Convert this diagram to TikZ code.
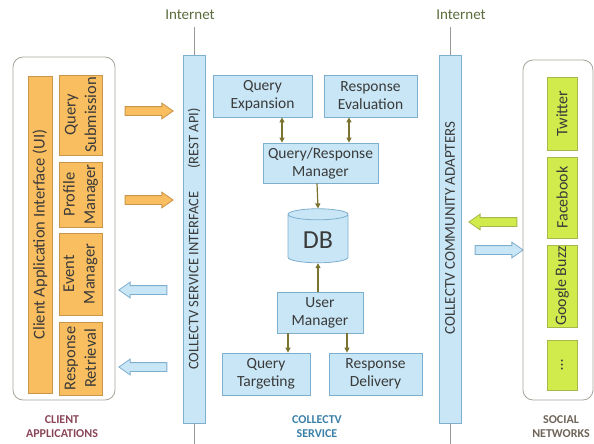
\documentclass[tikz,border=0pt]{standalone}
\usepackage{fontspec}
\setmainfont{Carlito}
\usetikzlibrary{arrows.meta,shapes.geometric,shapes.arrows}
\definecolor{bluefill}{HTML}{C8E6F5}
\definecolor{blueedge}{HTML}{7FAFCF}
\definecolor{orangefill}{HTML}{F9BE5F}
\definecolor{orangeedge}{HTML}{C9954A}
\definecolor{greenfill}{HTML}{D2EB4C}
\definecolor{greenedge}{HTML}{A6B84A}
\definecolor{paneledge}{HTML}{A8A39A}
\definecolor{linkcol}{HTML}{7B7330}
\definecolor{netcol}{HTML}{5A6B3C}
\definecolor{txtcol}{HTML}{3A3A3A}
\definecolor{clientcol}{HTML}{8B4558}
\definecolor{svccol}{HTML}{3A7FA8}
\definecolor{socialcol}{HTML}{6E6459}
\tikzset{
  panel/.style={draw=paneledge, rounded corners=10pt, line width=0.8pt},
  svcbox/.style={draw=blueedge, fill=bluefill, text=txtcol, align=center,
    font=\fontsize{15.5}{18}\selectfont, inner sep=0pt, line width=0.8pt},
  bar/.style={svcbox, rotate=90, font=\fontsize{14.5}{16}\selectfont},
  uibox/.style={draw=orangeedge, fill=orangefill, text=txtcol, align=center,
    rotate=90, font=\fontsize{16.5}{20.5}\selectfont, inner sep=0pt, line width=0.6pt},
  netbox/.style={draw=greenedge, fill=greenfill, text=txtcol, align=center,
    rotate=90, font=\fontsize{16}{18}\selectfont, inner sep=0pt, line width=0.6pt},
  pipe/.style={single arrow, minimum height=48pt, inner xsep=0pt, inner ysep=4pt,
    single arrow head extend=3.5pt, single arrow tip angle=70, line width=0.8pt},
  link/.style={draw=linkcol, line width=1.2pt, -{Triangle[length=5pt,width=5pt]}},
  wire/.style={draw=gray!80, line width=0.6pt},
  caption/.style={align=center, font=\fontsize{12}{14}\selectfont\bfseries}
}
\begin{document}
\begin{tikzpicture}[x=1pt, y=-1pt]
		%%%%% START %%%%%
		\useasboundingbox (0,0) rectangle (594,444);
		
		% client side
		\node[panel, minimum width=102pt, minimum height=343pt] (clients) at (64,228.5) {};
		\node[uibox, minimum width=317pt, minimum height=24pt] (ui) at (40,234.5) {Client Application Interface (UI)};
		\node[uibox, minimum width=80pt, minimum height=43pt] (qsub) at (80.5,115) {Query\\Submission};
		\node[uibox, minimum width=65pt, minimum height=43pt] (pman) at (80.5,194.5) {Profile\\Manager};
		\node[uibox, minimum width=82pt, minimum height=43pt] (eman) at (80.5,274) {Event\\Manager};
		\node[uibox, minimum width=73pt, minimum height=43pt] (rret) at (80.5,358.5) {Response\\Retrieval};
		\node[caption, text=clientcol] (clientcap) at (62,427) {CLIENT\\APPLICATIONS};
		
		\node[pipe, draw=orangeedge, fill=orangefill] (out1) at (146,111) {};
		\node[pipe, draw=orangeedge, fill=orangefill] (out2) at (146,200) {};
		\node[pipe, draw=blueedge, fill=bluefill, shape border rotate=180] (in1) at (146,290) {};
		\node[pipe, draw=blueedge, fill=bluefill, shape border rotate=180] (in2) at (146,367) {};
		
		% service interface
		\node[text=netcol, font=\fontsize{15}{17}\selectfont] (netL) at (190,15) {Internet};
		\node[bar, minimum width=368pt, minimum height=22pt] (rest) at (194,239) {COLLECTV SERVICE INTERFACE\hspace{1.6em}(REST API)};
		\draw[wire] (rest.east) -- (rest.east |- 0,27);
		\draw[wire] (rest.west) -- (rest.west |- 0,444);
		
		% service core
		\node[svcbox, minimum width=99pt, minimum height=42pt] (qexp) at (262.5,96) {Query\\Expansion};
		\node[svcbox, minimum width=93pt, minimum height=42pt] (reval) at (370.5,96) {Response\\Evaluation};
		\node[svcbox, minimum width=115pt, minimum height=40pt] (qrm) at (320.5,163) {Query/Response\\Manager};
		\node[cylinder, shape border rotate=90, aspect=0.3, draw=blueedge, fill=bluefill,
		  line width=0.8pt, minimum width=60pt, minimum height=54pt, text=txtcol,
		  font=\fontsize{26}{28}\selectfont] (db) at (318,240) {DB};
		\node[svcbox, minimum width=86pt, minimum height=41pt] (uman) at (320,312.5) {User\\Manager};
		\node[svcbox, minimum width=88pt, minimum height=42pt] (qtar) at (266,374) {Query\\Targeting};
		\node[svcbox, minimum width=93pt, minimum height=42pt] (rdel) at (375.5,374) {Response\\Delivery};
		\node[caption, text=svccol] (svccap) at (317,427) {COLLECTV\\SERVICE};
		
		\draw[link, {Triangle[length=5pt,width=5pt]}-{Triangle[length=5pt,width=5pt]}] ([xshift=19.5pt]qexp.south) -- ([xshift=19.5pt]qexp.south |- qrm.north);
		\draw[link, {Triangle[length=5pt,width=5pt]}-{Triangle[length=5pt,width=5pt]}] ([xshift=-21.5pt]reval.south) -- ([xshift=-21.5pt]reval.south |- qrm.north);
		\draw[link] ([xshift=-3.5pt]qrm.south) -- (db.north);
		\draw[link] (uman.north -| db.south) -- (db.south);
		\draw[link] ([xshift=-32pt]uman.south) -- ([xshift=-32pt]uman.south |- qtar.north);
		\draw[link] ([xshift=27pt]uman.south) -- ([xshift=27pt]uman.south |- rdel.north);
		
		% community adapters
		\node[text=netcol, font=\fontsize{15}{17}\selectfont] (netR) at (461,15) {Internet};
		\node[bar, minimum width=368pt, minimum height=22pt] (adapt) at (450,239) {};
		\node[rotate=90, text=txtcol, font=\fontsize{15}{17}\selectfont] (adapttxt) at (450,228) {COLLECTV COMMUNITY ADAPTERS};
		\draw[wire] (adapt.east) -- (adapt.east |- 0,27);
		\draw[wire] (adapt.west) -- (adapt.west |- 0,444);
		
		\node[pipe, draw=greenedge, fill=greenfill, shape border rotate=180] (inS) at (496,222) {};
		\node[pipe, draw=blueedge, fill=bluefill] (outS) at (496,250) {};
		
		% social networks
		\node[panel, minimum width=70pt, minimum height=340pt] (social) at (558,230) {};
		\node[netbox, minimum width=73pt, minimum height=30pt] (twit) at (562,113.5) {Twitter};
		\node[netbox, minimum width=81pt, minimum height=30pt] (fbook) at (562,197.5) {Facebook};
		\node[netbox, minimum width=82pt, minimum height=30pt] (gbuzz) at (562,286) {Google Buzz};
		\node[netbox, minimum width=50pt, minimum height=30pt] (more) at (562,365) {\dots};
		\node[caption, text=socialcol] (socialcap) at (561,427) {SOCIAL\\NETWORKS};
		
		%%%%% END %%%%%
	\end{tikzpicture}
\end{document}
